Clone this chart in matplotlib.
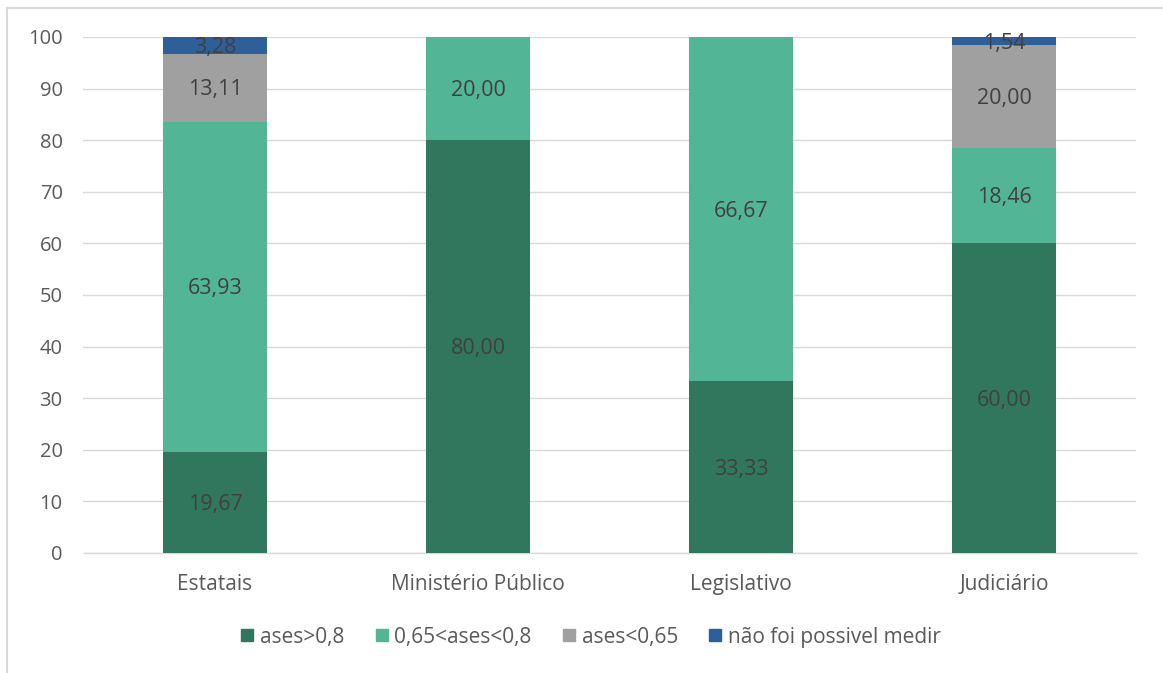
import matplotlib
matplotlib.use("Agg")
import matplotlib.pyplot as plt
from matplotlib.lines import Line2D
import numpy as np

categories = ["Estatais", "Ministério Público", "Legislativo", "Judiciário"]
series_names = ["ases>0,8", "0,65<ases<0,8", "ases<0,65", "não foi possivel medir"]
ases_alto = [19.67, 80.00, 33.33, 60.00]
ases_medio = [63.93, 20.00, 66.67, 18.46]
ases_baixo = [13.11, 0.00, 0.00, 20.00]
nao_medido = [3.28, 0.00, 0.00, 1.54]
y_ticks = [0, 10, 20, 30, 40, 50, 60, 70, 80, 90, 100]

colors = ["#31775E", "#52B595", "#A0A0A0", "#2F5F98"]
text_color = "#404040"
tick_color = "#595959"

plt.rcParams["font.family"] = ["Open Sans", "DejaVu Sans"]

fig = plt.figure(figsize=(11.63, 6.73), dpi=100)
ax = fig.add_axes([83.5 / 1163, 1 - 553 / 673, 1052 / 1163, 516 / 673])

x = np.arange(len(categories))
bottom = np.zeros(len(categories))
for name, vals, col in zip(series_names, [ases_alto, ases_medio, ases_baixo, nao_medido], colors):
    vals = np.array(vals)
    ax.bar(x, vals, width=0.395, bottom=bottom, color=col, label=name, zorder=3)
    for xi, b, v in zip(x, bottom, vals):
        if v > 0:
            ax.annotate(f"{v:.2f}".replace(".", ","), (xi, b + v / 2), xytext=(0, -1.5),
                        textcoords="offset points", ha="center", va="center",
                        fontsize=15.5, color=text_color, zorder=4)
    bottom += vals

ax.set_xlim(-0.5, len(categories) - 0.5)
ax.set_ylim(0, 100)
ax.set_yticks(y_ticks)
ax.yaxis.grid(True, color="#D9D9D9", linewidth=1.0, zorder=0)
ax.set_axisbelow(True)
for s in ["top", "right", "left"]:
    ax.spines[s].set_visible(False)
ax.spines["bottom"].set_color("#D9D9D9")
ax.spines["bottom"].set_linewidth(1.0)
ax.tick_params(axis="y", length=0, labelsize=14.5, labelcolor=tick_color, pad=15)
ax.tick_params(axis="x", length=0, labelsize=15, labelcolor=tick_color, pad=15)
ax.set_xticks(x)
ax.set_xticklabels(categories)

handles = [Line2D([0], [0], marker="s", linestyle="none", markersize=8,
                  markerfacecolor=c, markeredgecolor=c) for c in colors]
fig.legend(handles, series_names, loc="center", bbox_to_anchor=(591 / 1163, 1 - 637 / 673),
           ncol=4, frameon=False, fontsize=15, handlelength=0.6, handletextpad=0.3,
           columnspacing=1.5, labelcolor=tick_color)

# chart frame
fig.add_artist(Line2D([7 / 1163, 7 / 1163], [0, 1 - 8 / 673], transform=fig.transFigure,
                      color="#D9D9D9", linewidth=1.5))
fig.add_artist(Line2D([7 / 1163, 1], [1 - 8 / 673, 1 - 8 / 673], transform=fig.transFigure,
                      color="#D9D9D9", linewidth=1.5))

fig.savefig("out.png", dpi=100)
